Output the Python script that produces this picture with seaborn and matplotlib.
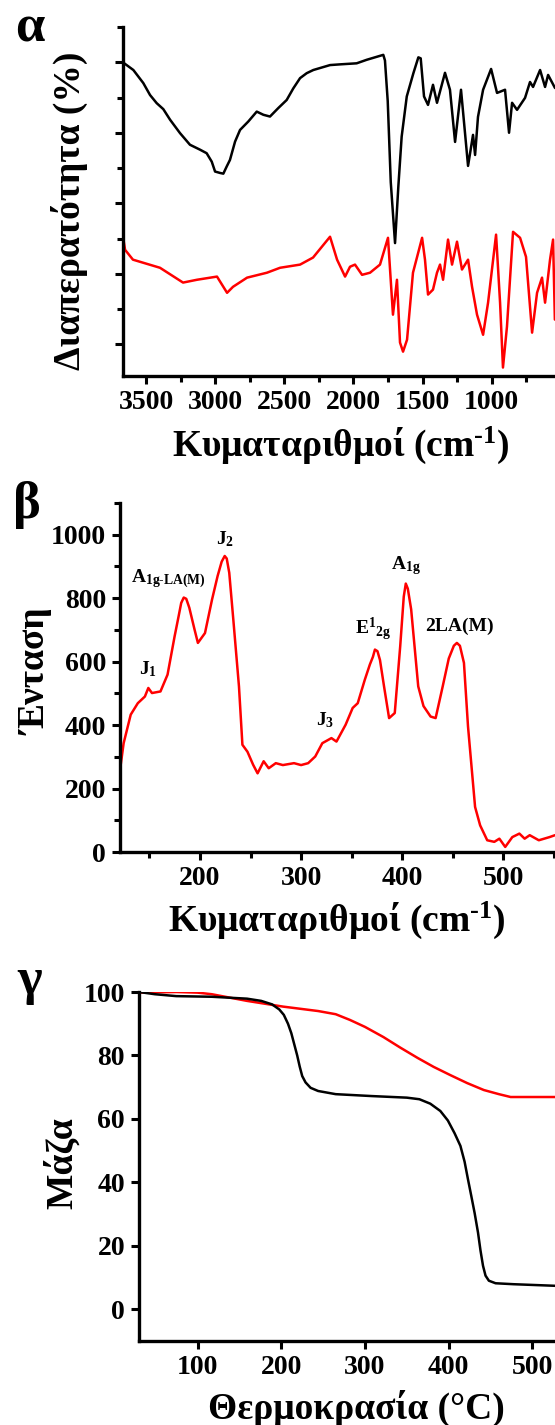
import matplotlib
matplotlib.use("Agg")
import matplotlib.pyplot as plt
import seaborn as sns
from matplotlib.ticker import MultipleLocator

# --- α: FTIR spectra (transmittance, arbitrary offset units) ---
ir_wn_black = [3668, 3595, 3523, 3474, 3426, 3378, 3329, 3257, 3185, 3112, 3064, 3027,
               3003, 2967, 2943, 2919, 2895, 2858, 2822, 2762, 2701, 2653, 2605, 2545,
               2484, 2436, 2387, 2339, 2291, 2170, 2098, 1977, 1904, 1784, 1772, 1752,
               1730, 1699, 1675, 1651, 1614, 1566, 1530, 1513, 1489, 1460, 1424, 1395,
               1337, 1301, 1264, 1221, 1170, 1134, 1119, 1098, 1061, 1003, 960, 902, 873,
               851, 815, 757, 721, 699, 648, 612, 590, 540]
ir_t_black = [8.99, 8.78, 8.41, 8.07, 7.84, 7.67, 7.37, 6.99, 6.66, 6.52, 6.42, 6.18,
              5.90, 5.86, 5.84, 6.04, 6.23, 6.75, 7.08, 7.32, 7.60, 7.51, 7.46, 7.70,
              7.93, 8.26, 8.55, 8.69, 8.78, 8.92, 8.94, 8.97, 9.07, 9.21, 9.05, 7.90,
              5.60, 3.87, 5.48, 6.89, 8.03, 8.69, 9.14, 9.11, 8.03, 7.79, 8.36, 7.85,
              8.70, 8.22, 6.74, 8.22, 6.06, 6.94, 6.37, 7.45, 8.22, 8.81, 8.13, 8.22,
              7.00, 7.85, 7.65, 7.99, 8.44, 8.30, 8.78, 8.30, 8.64, 8.27]
ir_wn_red = [3670, 3655, 3598, 3402, 3235, 3134, 2989, 2916, 2873, 2771, 2627, 2532,
             2387, 2293, 2170, 2119, 2061, 2025, 1989, 1938, 1880, 1808, 1750, 1714,
             1685, 1663, 1641, 1612, 1569, 1503, 1482, 1460, 1424, 1395, 1373, 1351,
             1315, 1286, 1250, 1214, 1170, 1141, 1105, 1061, 1025, 967, 938, 917, 888,
             844, 793, 750, 706, 670, 634, 612, 576, 554, 541]
ir_t_red = [4.05, 3.68, 3.40, 3.17, 2.75, 2.83, 2.92, 2.46, 2.63, 2.89, 3.03, 3.17,
            3.26, 3.46, 4.05, 3.40, 2.92, 3.20, 3.26, 2.97, 3.03, 3.26, 4.02, 1.84,
            2.83, 1.05, 0.79, 1.13, 3.03, 4.02, 3.40, 2.41, 2.55, 3.03, 3.26, 2.83,
            3.97, 3.26, 3.91, 3.12, 3.40, 2.63, 1.84, 1.27, 2.18, 4.11, 2.18, 0.34,
            1.50, 4.19, 4.02, 3.48, 1.33, 2.46, 2.89, 2.18, 3.40, 3.97, 1.70]

# --- β: Raman spectrum ---
raman_shift = [121, 124.6, 131.6, 138.6, 145.6, 149, 152.6, 161, 168, 175, 179, 181.5,
               184, 186.5, 189.5, 194.7, 198, 205, 212, 217.5, 221.5, 224.5, 226.5, 229,
               233, 238.6, 242, 247, 252.6, 257, 263, 268, 275, 282, 293, 300, 307, 314,
               321, 330, 335, 344, 351, 356, 363, 368, 371, 373, 375.5, 378, 382, 387,
               392.6, 398, 401.5, 403.5, 405.5, 408.8, 415.8, 421, 428, 433, 440, 446,
               451, 454, 457, 461, 465, 472, 477, 484, 491, 496, 501.8, 508.8, 515.8, 521,
               526, 535, 545.6, 551]
raman_int = [258, 343, 433, 469, 490, 517, 501, 506, 559, 680, 744, 785, 802, 798, 770,
             701, 659, 690, 796, 870, 915, 933, 925, 880, 733, 522, 338, 316, 275, 248,
             286, 264, 280, 274, 280, 274, 280, 301, 343, 359, 348, 401, 454, 469, 543,
             591, 615, 638, 633, 605, 522, 422, 438, 649, 805, 846, 830, 765, 522, 460,
             427, 422, 522, 610, 650, 659, 650, 596, 396, 142, 84, 37, 32, 42, 16, 47,
             58, 42, 53, 37, 47, 53]
raman_labels = [r"J$_{\mathbf{1}}$", r"A$_{\mathbf{1g\text{-}LA(M)}}$", r"J$_{\mathbf{2}}$",
                r"J$_{\mathbf{3}}$", r"E$^{\mathbf{1}}$$_{\mathbf{2g}}$", r"A$_{\mathbf{1g}}$",
                "2LA(M)"]
raman_label_x = [149, 169, 225, 324, 371, 403.5, 457]
raman_label_y = [575, 860, 986, 415, 701, 902, 712]

# --- γ: TGA curves ---
tga_temp_black = [30, 49, 74.5, 117, 159, 176, 189, 197.6, 203, 208, 212, 216, 219, 222,
                  225, 229, 235, 244, 265, 308, 350, 365, 378, 390, 399, 407, 414, 419,
                  423, 427, 431, 435, 438, 441, 444, 448, 456, 477.5, 527]
tga_mass_black = [100, 99.3, 98.7, 98.5, 97.9, 97.2, 96.1, 94.5, 92.8, 90.0, 87.0, 83.0,
                  80.0, 76.5, 73.5, 71.5, 69.8, 68.8, 67.8, 67.2, 66.7, 66.2, 64.8, 62.5,
                  59.5, 55.5, 51.5, 46.5, 41.0, 35.7, 30.3, 24.2, 18.5, 13.7, 10.6, 9.0,
                  8.2, 7.9, 7.4]
tga_temp_red = [30, 74.5, 100, 117, 159, 202, 244, 265, 282, 300, 322, 342, 363, 382, 402,
                422, 442, 460, 474, 527]
tga_mass_red = [99.8, 100, 99.8, 99.3, 97.2, 95.4, 94.0, 93.0, 91.2, 89.0, 85.8, 82.5,
                79.2, 76.4, 73.8, 71.3, 69.1, 67.8, 66.9, 66.9]

sns.set_theme(style="ticks")
plt.rcParams["font.family"] = ["Liberation Serif", "DejaVu Serif"]
plt.rcParams["font.weight"] = "bold"
plt.rcParams["mathtext.fontset"] = "custom"
plt.rcParams["mathtext.rm"] = "Liberation Serif:bold"
plt.rcParams["mathtext.bf"] = "Liberation Serif:bold"
plt.rcParams["mathtext.it"] = "Liberation Serif:bold:italic"
plt.rcParams["axes.linewidth"] = 2.4
plt.rcParams["axes.edgecolor"] = "black"
for key in ["text.color", "axes.labelcolor", "xtick.color", "ytick.color"]:
    plt.rcParams[key] = "black"

W, H = 555, 1425
fig = plt.figure(figsize=(W / 100, H / 100), dpi=100)


def make_axes(left, top, bottom):
    return fig.add_axes([left / W, 1 - bottom / H, (W - left) / W, (bottom - top) / H])


def style(ax, size):
    sns.despine(ax=ax)
    ax.tick_params(which="major", direction="out", length=6, width=2.2,
                   labelsize=size, pad=4, colors="black")
    ax.tick_params(which="minor", direction="out", length=4, width=2.2)
    for lab in ax.get_xticklabels() + ax.get_yticklabels():
        lab.set_fontweight("bold")


LW = 1.8
AX_FS = 27
CM_LABEL = r"Κυματαριθμοί (cm$^{\text{-1}}$)"

# α
ax1 = make_axes(123, 27, 376)
sns.lineplot(x=ir_wn_black, y=ir_t_black, color="black", lw=LW, ax=ax1)
sns.lineplot(x=ir_wn_red, y=ir_t_red, color="red", lw=LW, ax=ax1)
ax1.set_xlim(3670, 540)
ax1.set_ylim(0.1, 10)
ax1.set_xticks([3500, 3000, 2500, 2000, 1500, 1000])
ax1.xaxis.set_minor_locator(MultipleLocator(250))
ax1.set_yticks([1, 3, 5, 7, 9])
ax1.set_yticks([2, 4, 6, 8, 10], minor=True)
ax1.set_yticklabels([])
style(ax1, 20)
ax1.set_xlabel(CM_LABEL, fontsize=AX_FS, fontweight="bold")
ax1.set_ylabel("Διαπερατότητα (%)", fontsize=AX_FS, fontweight="bold")
ax1.xaxis.set_label_coords(0.505, -0.198)
ax1.yaxis.set_label_coords(-0.125, 0.473)
ax1.xaxis.label.set_va("center")
ax1.yaxis.label.set_va("center")

# β
ax2 = make_axes(120, 503, 852)
sns.lineplot(x=raman_shift, y=raman_int, color="red", lw=LW, ax=ax2)
ax2.set_xlim(121, 551)
ax2.set_ylim(0, 1100)
ax2.set_xticks([200, 300, 400, 500])
ax2.set_xticks([150, 250, 350, 450, 550], minor=True)
ax2.set_yticks([0, 200, 400, 600, 800, 1000])
ax2.set_yticks([100, 300, 500, 700, 900, 1100], minor=True)
style(ax2, 20)
for lab, lx, ly in zip(raman_labels, raman_label_x, raman_label_y):
    ax2.text(lx, ly, lab, fontsize=14, fontweight="bold", ha="center", va="center")
ax2.set_xlabel(CM_LABEL, fontsize=AX_FS, fontweight="bold")
ax2.set_ylabel("Ένταση", fontsize=AX_FS, fontweight="bold")
ax2.xaxis.set_label_coords(0.499, -0.195)
ax2.yaxis.set_label_coords(-0.193, 0.516)
ax2.xaxis.label.set_va("center")
ax2.yaxis.label.set_va("center")

# γ
ax3 = make_axes(139, 992, 1341)
sns.lineplot(x=tga_temp_red, y=tga_mass_red, color="red", lw=LW, ax=ax3)
sns.lineplot(x=tga_temp_black, y=tga_mass_black, color="black", lw=LW, ax=ax3)
ax3.set_xlim(30, 527)
ax3.set_ylim(-10, 100)
ax3.set_xticks([100, 200, 300, 400, 500])
ax3.set_yticks([0, 20, 40, 60, 80, 100])
style(ax3, 20)
ax3.set_xlabel("Θερμοκρασία (°C)", fontsize=AX_FS, fontweight="bold")
ax3.set_ylabel("Μάζα", fontsize=AX_FS, fontweight="bold")
ax3.xaxis.set_label_coords(0.522, -0.192)
ax3.yaxis.set_label_coords(-0.185, 0.51)
ax3.xaxis.label.set_va("center")
ax3.yaxis.label.set_va("center")

# panel letters
for letter, px, py in [("α", 30, 28), ("β", 27, 505), ("γ", 30, 981)]:
    fig.text(px / W, 1 - py / H, letter, fontsize=38, fontweight="bold",
             ha="center", va="center")

fig.savefig("out.png", dpi=100)
